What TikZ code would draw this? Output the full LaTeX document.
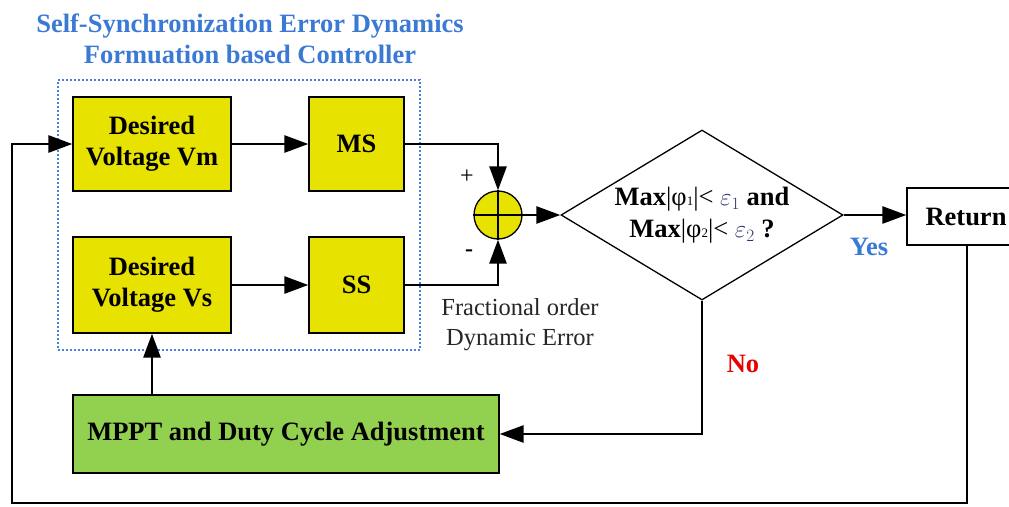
\documentclass[tikz,border=0pt]{standalone}
\usepackage{fontspec}
\setmainfont{Liberation Serif}
\usetikzlibrary{shapes.geometric,arrows.meta}
\definecolor{yfill}{RGB}{232,226,0}
\definecolor{gfill}{RGB}{146,208,80}
\definecolor{tblue}{RGB}{58,122,212}
\definecolor{dblue}{RGB}{70,130,220}
\definecolor{nored}{RGB}{230,0,0}
\definecolor{epscol}{RGB}{40,50,110}
\tikzset{
  big/.style={font=\fontsize{26.5}{31}\selectfont\bfseries},
  ybox/.style={draw, line width=1.3pt, fill=yfill, big, align=center, inner sep=0pt},
  gbox/.style={draw, line width=1.3pt, fill=gfill, big, align=center, inner sep=0pt},
  conn/.style={line width=2.7pt, -{Triangle[length=24pt,width=17pt]}},
}
\begin{document}
\begin{tikzpicture}[x=1pt,y=-1pt]
\useasboundingbox (0,0) rectangle (1009,506);
\clip (0,0) rectangle (1009,506);
% title
\node[big, text=tblue, align=center] (title) at (250,39) {Self-Synchronization Error Dynamics\\Formuation based Controller};
% controller frame
\node[draw=dblue, line width=1.2pt, dash pattern=on 2pt off 2pt, minimum width=362pt, minimum height=270pt, inner sep=0pt] (ctrl) at (239,215) {};
% blocks
\node[ybox, minimum width=158pt, minimum height=94pt] (vm) at (152,144) {Desired\\Voltage Vm};
\node[ybox, minimum width=95pt, minimum height=94pt] (ms) at (356.5,144) {MS};
\node[ybox, minimum width=158pt, minimum height=96pt] (vs) at (152,285) {Desired\\Voltage Vs};
\node[ybox, minimum width=95pt, minimum height=96pt] (ss) at (356.5,285) {SS};
\node[gbox, minimum width=426pt, minimum height=78pt] (mppt) at (286,434) {MPPT and Duty Cycle Adjustment};
% summing junction
\node[circle, draw, line width=1.3pt, fill=yfill, minimum size=48pt, inner sep=0pt] (sum) at (498,215) {};
\draw[line width=1.3pt] (sum.north) -- (sum.south) (sum.west) -- (sum.east);
% decision
\node[diamond, draw, line width=1.3pt, minimum width=282pt, minimum height=170pt, inner sep=0pt] (dia) at (702,215) {};
\node[font=\fontsize{26.5}{32}\selectfont, align=center] (diatext) at (dia.center)
  {\textbf{Max}|φ{\fontsize{13}{13}\selectfont 1}|< {\color{epscol}$\varepsilon_1$} \textbf{and}\\
   \textbf{Max}|φ{\fontsize{13}{13}\selectfont 2}|< {\color{epscol}$\varepsilon_2$} \textbf{?}};
% return
\node[draw, line width=1.3pt, minimum width=120pt, minimum height=57pt, big, inner sep=0pt] (ret) at (967,216.5) {\hspace*{-2pt}Return};
% labels
\node[font=\fontsize{24}{24}\selectfont] (plus) at (467,177) {+};
\node[font=\fontsize{24}{24}\selectfont\bfseries] (minus) at (469,253) {-};
\node[font=\fontsize{24.5}{30}\selectfont, align=center, text=black!85] (frac) at (520,325) {Fractional order\\Dynamic Error};
\node[big, text=tblue] (yes) at (869,247) {Yes};
\node[big, text=nored] (no) at (743,364) {No};
% coordinates for feedback loop
\coordinate (c1) at (967,503);
\coordinate (c2) at (12,503);
% connectors
\draw[conn] (vm.east) -- (ms.west);
\draw[conn] (vs.east) -- (ss.west);
\draw[conn] (ms.east) -| (sum.north);
\draw[conn] (ss.east) -| (sum.south);
\draw[conn] (sum.east) -- (dia.west);
\draw[conn] (dia.east) -- (dia.east -| ret.west);
\draw[conn] (dia.south) |- (mppt.east);
\draw[conn] (vs.south |- mppt.north) -- (vs.south);
\draw[conn] (ret.south -| c1) -- (c1) -- (c2) |- (vm.west);
\end{tikzpicture}
\end{document}
